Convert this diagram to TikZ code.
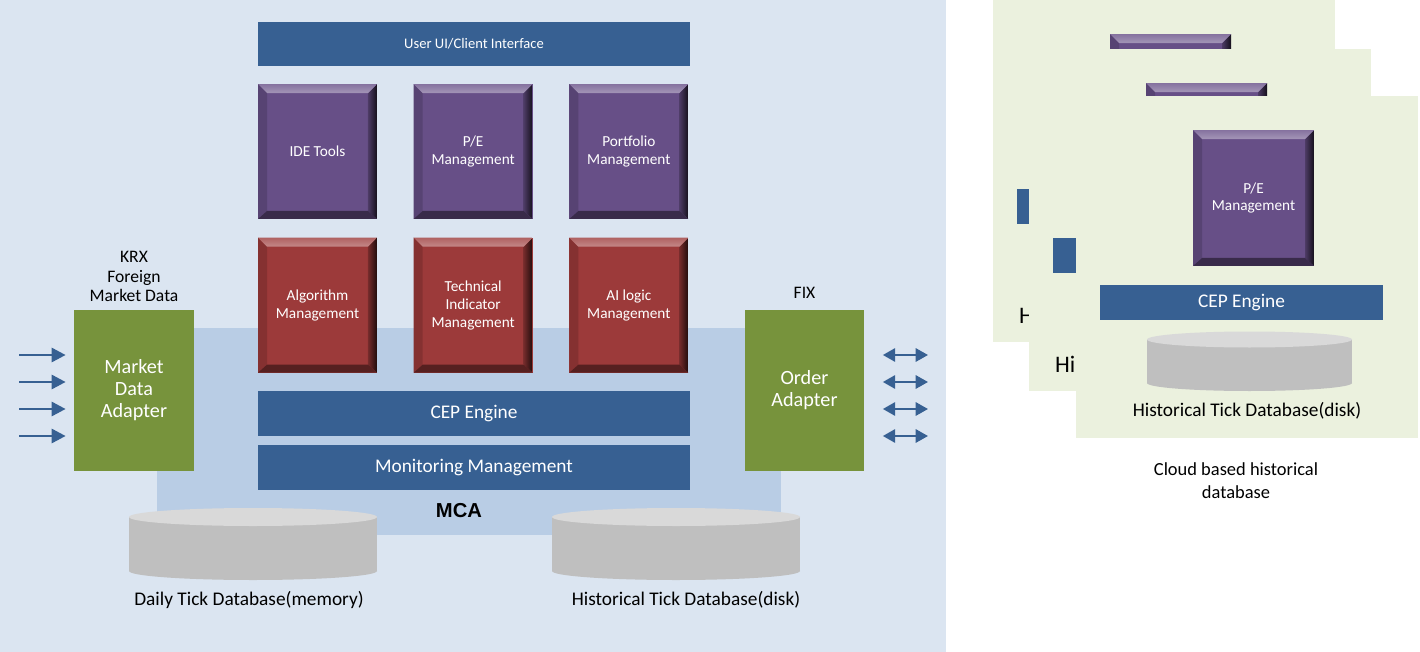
\documentclass[tikz,border=0pt]{standalone}
\usepackage{fontspec}
\setmainfont{Carlito}
\newfontfamily\mcafont{Liberation Sans}
\usetikzlibrary{positioning,calc,arrows.meta}

\definecolor{panelblue}{HTML}{DBE5F1}
\definecolor{mcablue}{HTML}{B9CDE5}
\definecolor{barblue}{HTML}{376092}
\definecolor{tilepurple}{HTML}{674F87}
\definecolor{tilered}{HTML}{9C3A3A}
\definecolor{adaptgreen}{HTML}{77933C}
\definecolor{cloudgreen}{HTML}{EBF1DE}
\definecolor{cylside}{HTML}{BFBFBF}
\definecolor{cyltop}{HTML}{D9D9D9}

\tikzset{
  bar/.style={fill=barblue, text=white, inner sep=0pt, minimum width=8.64cm,
    minimum height=0.9cm, font=\fontsize{11}{13}\selectfont},
  bevel/.style={fill=#1, path picture={
    \coordinate (bnw) at (path picture bounding box.north west);
    \coordinate (bne) at (path picture bounding box.north east);
    \coordinate (bsw) at (path picture bounding box.south west);
    \coordinate (bse) at (path picture bounding box.south east);
    \fill[#1!85!black] (bnw) -- (bsw) -- ([shift={(0.18cm,0.16cm)}]bsw) -- ([shift={(0.18cm,-0.18cm)}]bnw) -- cycle;
    \shade[left color=#1!75!black, right color=#1!20!black] (bne) -- (bse) -- ([shift={(-0.18cm,0.16cm)}]bse) -- ([shift={(-0.18cm,-0.18cm)}]bne) -- cycle;
    \fill[#1!55!black] (bsw) -- (bse) -- ([shift={(-0.18cm,0.16cm)}]bse) -- ([shift={(0.18cm,0.16cm)}]bsw) -- cycle;
    \shade[top color=#1!80!white, bottom color=#1!60!white] (bnw) -- (bne) -- ([shift={(-0.18cm,-0.18cm)}]bne) -- ([shift={(0.18cm,-0.18cm)}]bnw) -- cycle;
  }},
  tile/.style={bevel=#1, text=white, align=center, inner sep=0pt, minimum width=2.38cm,
    minimum height=2.7cm, font=\fontsize{8.7}{10.2}\selectfont},
  adapter/.style={fill=adaptgreen, text=white, align=center, minimum width=2.4cm,
    minimum height=3.22cm, font=\fontsize{11.5}{12.5}\selectfont},
  dblabel/.style={align=center, font=\fontsize{11}{13}\selectfont},
  feed/.style={barblue, line width=1.6pt, -{Triangle[length=8pt,width=8pt]}, shorten >=0.16cm},
  duplex/.style={barblue, line width=1.4pt, {Triangle[length=7pt,width=7.5pt]}-{Triangle[length=7pt,width=7.5pt]}},
}

% drum: centre x, top y, bottom y, x radius, y radius
\newcommand{\drum}[5]{%
  \fill[cylside] (#1,#3) ellipse[x radius=#4, y radius=#5];
  \fill[cylside] (#1-#4,#2) rectangle (#1+#4,#3);
  \fill[cyltop] (#1,#2) ellipse[x radius=#4, y radius=#5];
}

% cloud card: name, left, top, label options
\newcommand{\cloudcard}[4]{%
  \begin{scope}[shift={(#2,#3)}]
    \fill[cloudgreen] (0,0) rectangle (342,342);
    \node[tile=tilepurple, minimum width=2.42cm, minimum height=2.72cm] (#1pe) at (177.5,102) {P/E\\Management};
    \node[bar, minimum width=5.66cm, minimum height=0.7cm] (#1cep) at (165.5,206.5) {CEP Engine};
    \drum{173.5}{243.5}{287}{102.5}{8}
    \node[#4] (#1db) {Historical Tick Database(disk)};
  \end{scope}
}

\begin{document}
\begin{tikzpicture}[x=0.02cm,y=-0.02cm]
\useasboundingbox (0,0) rectangle (1420,652);
%Panels
\fill[panelblue] (0,0) rectangle (946,652);
\fill[mcablue] (157,328) rectangle (781,535);
\node[font=\mcafont\bfseries\fontsize{11.5}{13}\selectfont] (mca) at (459,511) {MCA};
%Client bar
\node[bar, font=\fontsize{8.3}{10}\selectfont] (ui) at (474,44) {User UI/Client Interface};
%Tiles
\node[tile=tilepurple] (ide) at (317.5,151.5) {IDE Tools};
\node[tile=tilepurple, right=0.72cm of ide] (pe) {P/E\\Management};
\node[tile=tilepurple, right=0.72cm of pe] (pf) {Portfolio\\Management};
\node[tile=tilered, below=0.36cm of ide] (algo) {Algorithm\\Management};
\node[tile=tilered, below=0.36cm of pe] (ti) {Technical\\Indicator\\Management};
\node[tile=tilered, below=0.36cm of pf] (ai) {AI logic\\Management};
%Engine bars
\node[bar] (cep) at (474,413.5) {CEP Engine};
\node[bar] (mon) at (474,467.5) {Monitoring Management};
%Adapters
\node[adapter] (mda) at (134,390.5) {Market\\Data\\Adapter};
\node[adapter] (oa) at (804.5,390.5) {Order\\Adapter};
\node[dblabel, font=\fontsize{10}{11}\selectfont, above=0.04cm of mda] (krx) {KRX\\Foreign\\Market Data};
\node[dblabel, font=\fontsize{10}{11}\selectfont, above=0.1cm of oa] (fix) {FIX};
%Feeds
\foreach \i/\y in {1/355,2/382,3/409,4/436}{
  \coordinate (feed\i) at (19,\y);
  \draw[feed] (feed\i) -- (feed\i -| mda.west);
  \coordinate (fixline\i) at (928,\y);
  \draw[duplex, shorten <=0.36cm] (oa.east |- fixline\i) -- (fixline\i);
}
%Databases
\drum{253}{517}{571}{124}{9}
\drum{676}{517}{571}{124}{9}
\node[dblabel] (dailydb) at (249,600) {Daily Tick Database(memory)};
\node[dblabel] (histdb) at (686,600) {Historical Tick Database(disk)};
%Cloud cards
\cloudcard{ca}{993}{0}{dblabel, anchor=west, font=\fontsize{13.5}{15}\selectfont, at={(20,316)}}
\cloudcard{cb}{1029}{49}{dblabel, anchor=west, font=\fontsize{13.5}{15}\selectfont, at={(20,316)}}
\cloudcard{cc}{1076}{96}{dblabel, at={(171,315)}}
\node[dblabel, font=\fontsize{10.5}{13}\selectfont] (cloud) at (1236,480.5) {Cloud based historical\\database};
\end{tikzpicture}
\end{document}
